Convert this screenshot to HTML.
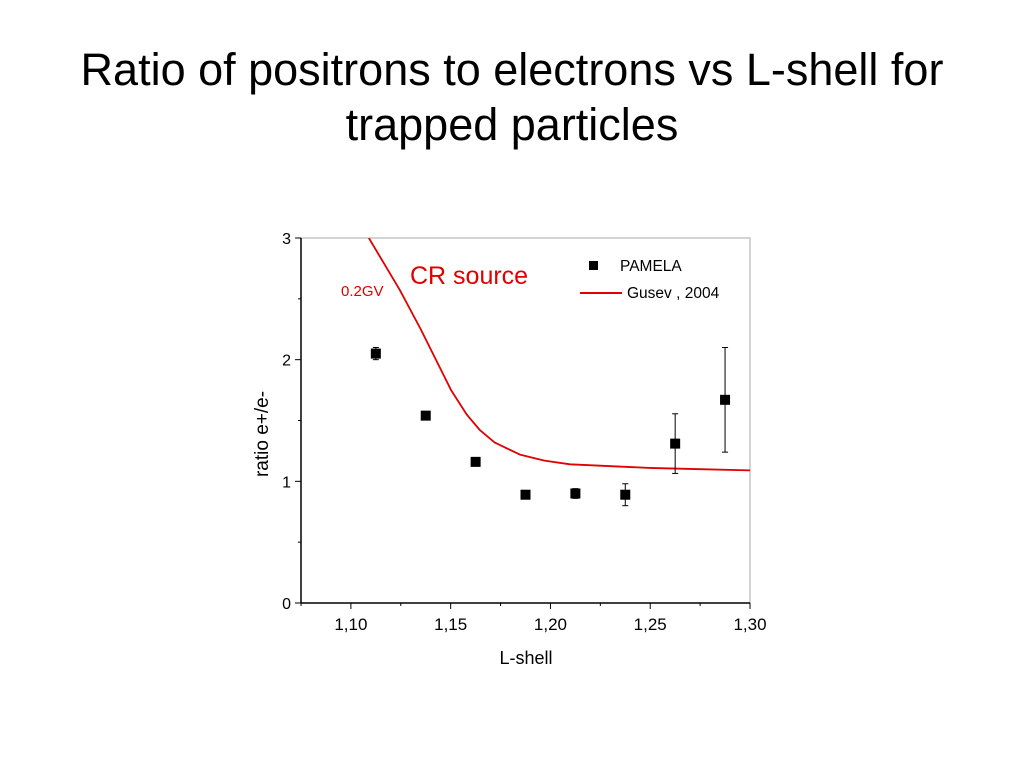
<!DOCTYPE html>
<html><head><meta charset="utf-8"><style>
body{margin:0;background:#fff;width:1024px;height:768px;overflow:hidden;font-family:"Liberation Sans",Arial,sans-serif}
h1{position:absolute;top:42px;left:0;width:1024px;margin:0;text-align:center;font-weight:normal;font-size:45px;line-height:55px;color:#000}
</style></head><body>
<h1>Ratio of positrons to electrons vs L-shell for<br>trapped particles</h1>
<svg id="chart" width="1024" height="768" style="position:absolute;left:0;top:0"></svg>
<script>
const xTicks=[1.10,1.15,1.20,1.25,1.30];
const xTickLabels=["1,10","1,15","1,20","1,25","1,30"];
const yTicks=[0,1,2,3];
const pamelaL=[1.1125,1.1375,1.1625,1.1875,1.2125,1.2375,1.2625,1.2875];
const pamelaR=[2.05,1.54,1.16,0.89,0.90,0.89,1.31,1.67];
const pamelaErr=[0.05,0.03,0.03,0.02,0.04,0.09,0.245,0.43];
const gusevL=[1.109,1.1246,1.135,1.1502,1.158,1.1647,1.172,1.1847,1.197,1.2098,1.2499,1.275,1.30];
const gusevR=[3.0,2.57,2.25,1.75,1.55,1.42,1.32,1.22,1.17,1.14,1.11,1.10,1.09];
const X0=301,X1=750,Y0=603,Y1=238,xmin=1.075,xmax=1.30,ymin=0,ymax=3;
const sx=v=>X0+(v-xmin)/(xmax-xmin)*(X1-X0);
const sy=v=>Y0-(v-ymin)/(ymax-ymin)*(Y0-Y1);
const svg=document.getElementById('chart');const NS='http://www.w3.org/2000/svg';
function mk(t,a,p){const e=document.createElementNS(NS,t);for(const k in a)e.setAttribute(k,a[k]);(p||svg).appendChild(e);return e;}
let e;
e=mk('rect',{x:X0,y:Y1,width:X1-X0,height:Y0-Y1,fill:'none',stroke:'#aaa','stroke-width':1});

e=mk('line',{x1:X0,y1:Y1,x2:X0,y2:Y0,stroke:'#000','stroke-width':1.5});

e=mk('line',{x1:X0,y1:Y0,x2:X1,y2:Y0,stroke:'#000','stroke-width':1.5});

yTicks.forEach(v=>{mk('line',{x1:X0-6,x2:X0,y1:sy(v),y2:sy(v),stroke:'#000'});
 e=mk('text',{x:X0-10,y:sy(v)+6,'text-anchor':'end','font-size':16});e.textContent=v;
 
 if(v<3)mk('line',{x1:X0-3,x2:X0,y1:sy(v+0.5),y2:sy(v+0.5),stroke:'#000'});});
xTicks.forEach((v,i)=>{mk('line',{x1:sx(v),x2:sx(v),y1:Y0,y2:Y0+6,stroke:'#000'});
 e=mk('text',{x:sx(v),y:Y0+27,'text-anchor':'middle','font-size':17});e.textContent=xTickLabels[i];
 
 mk('line',{x1:sx(v-0.025),x2:sx(v-0.025),y1:Y0,y2:Y0+3,stroke:'#000'});});
e=mk('text',{x:526,y:664,'text-anchor':'middle','font-size':18});e.textContent='L-shell';

e=mk('text',{x:268,y:434,'text-anchor':'middle','font-size':19,transform:'rotate(-90 268 434)'});e.textContent='ratio e+/e-';

const cp=document.createElementNS(NS,'clipPath');cp.id='cl';svg.appendChild(cp);mk('rect',{x:X0,y:Y1,width:X1-X0,height:Y0-Y1},cp);
e=mk('polyline',{points:gusevL.map((l,i)=>sx(l)+','+sy(gusevR[i])).join(' '),fill:'none',stroke:'#e00000','stroke-width':1.8,'stroke-linejoin':'round','clip-path':'url(#cl)'});

pamelaL.forEach((l,i)=>{const g=mk('g',{});
 const x=sx(l),y=sy(pamelaR[i]),t=sy(pamelaR[i]+pamelaErr[i]),b=sy(pamelaR[i]-pamelaErr[i]);
 mk('line',{x1:x,x2:x,y1:t,y2:b,stroke:'#000'},g);mk('line',{x1:x-3,x2:x+3,y1:t,y2:t,stroke:'#000'},g);mk('line',{x1:x-3,x2:x+3,y1:b,y2:b,stroke:'#000'},g);
 mk('rect',{x:x-5,y:y-5,width:10,height:10,fill:'#000'},g);});
e=mk('text',{x:341,y:296,'font-size':15,fill:'#e00000'});e.textContent='0.2GV';
e=mk('text',{x:410,y:284,'font-size':25,fill:'#e00000'});e.textContent='CR source';
const lg=mk('g',{});
mk('rect',{x:589,y:261,width:9,height:9,fill:'#000'},lg);
e=mk('text',{x:620,y:271,'font-size':15.5},lg);e.textContent='PAMELA';
mk('line',{x1:580,x2:622,y1:293,y2:293,stroke:'#e00000','stroke-width':2},lg);
e=mk('text',{x:627,y:298,'font-size':15.5},lg);e.textContent='Gusev , 2004';
</script>
</body></html>
